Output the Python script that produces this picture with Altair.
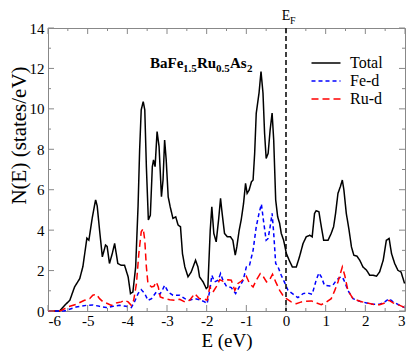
import altair as alt
import pandas as pd

# ---------------- data ----------------
total_e = [-6.0, -5.71, -5.58, -5.45, -5.33, -5.2, -5.12, -5.02, -4.97, -4.88, -4.8, -4.76, -4.7, -4.63, -4.55, -4.51, -4.45, -4.38, -4.32, -4.24, -4.15, -4.07, -3.98, -3.92, -3.86, -3.79, -3.73, -3.69, -3.65, -3.6, -3.56, -3.52, -3.47, -3.42, -3.37, -3.34, -3.3, -3.25, -3.2, -3.14, -3.1, -3.06, -3.02, -2.97, -2.92, -2.85, -2.78, -2.72, -2.66, -2.61, -2.55, -2.47, -2.39, -2.28, -2.22, -2.18, -2.09, -2.01, -1.97, -1.91, -1.87, -1.82, -1.76, -1.7, -1.65, -1.61, -1.55, -1.48, -1.4, -1.34, -1.28, -1.24, -1.18, -1.13, -1.07, -1.02, -0.98, -0.93, -0.87, -0.83, -0.79, -0.75, -0.68, -0.63, -0.58, -0.54, -0.5, -0.45, -0.4, -0.35, -0.31, -0.26, -0.21, -0.16, -0.12, -0.06, 0.01, 0.08, 0.16, 0.26, 0.34, 0.43, 0.51, 0.6, 0.66, 0.72, 0.76, 0.83, 0.89, 0.95, 1.06, 1.14, 1.2, 1.25, 1.31, 1.37, 1.42, 1.46, 1.52, 1.59, 1.65, 1.71, 1.79, 1.86, 1.94, 2.03, 2.11, 2.19, 2.28, 2.36, 2.45, 2.53, 2.6, 2.66, 2.74, 2.82, 2.9, 2.99]
total_n = [0, 0, 0.28, 0.53, 1.19, 1.6, 2.2, 3.6, 3.5, 4.66, 5.5, 5.2, 4.0, 2.68, 3.26, 3.2, 2.35, 2.84, 3.34, 2.35, 2.26, 2.26, 1.69, 0.86, 0.94, 2.18, 5.16, 7.97, 9.95, 10.36, 9.95, 7.14, 4.5, 4.74, 7.14, 7.47, 7.14, 8.88, 8.13, 5.65, 6.48, 8.46, 7.47, 5.65, 5.16, 4.58, 4.66, 4.25, 4.17, 2.84, 2.18, 1.69, 1.93, 2.51, 2.18, 1.69, 1.44, 1.11, 1.19, 4.0, 5.16, 3.84, 3.42, 4.5, 5.57, 4.83, 3.84, 3.67, 3.67, 3.5, 2.76, 3.17, 4.0, 4.5, 5.32, 6.31, 5.82, 5.98, 6.4, 6.48, 7.8, 9.79, 10.78, 11.85, 10.78, 8.79, 7.55, 7.8, 8.96, 9.79, 8.46, 5.49, 4.66, 4.33, 3.84, 3.5, 2.84, 2.51, 2.18, 2.18, 2.68, 3.34, 3.67, 3.75, 3.67, 4.83, 4.96, 4.91, 4.17, 3.5, 3.5, 3.84, 4.17, 4.83, 5.82, 6.15, 6.48, 5.98, 4.83, 4.0, 3.17, 2.76, 2.71, 2.51, 2.18, 2.02, 1.77, 1.77, 1.72, 1.93, 2.51, 3.5, 3.59, 2.84, 2.35, 2.02, 1.93, 1.36]

fe_e = [-6.0, -5.6, -5.54, -5.29, -5.03, -4.87, -4.7, -4.53, -4.36, -4.19, -4.03, -3.9, -3.82, -3.73, -3.65, -3.56, -3.48, -3.39, -3.27, -3.18, -3.12, -3.06, -2.97, -2.85, -2.68, -2.55, -2.43, -2.3, -2.18, -2.05, -1.99, -1.92, -1.87, -1.8, -1.71, -1.65, -1.59, -1.5, -1.38, -1.27, -1.17, -1.08, -1.0, -0.92, -0.83, -0.75, -0.68, -0.62, -0.57, -0.5, -0.45, -0.4, -0.35, -0.31, -0.26, -0.2, -0.12, -0.03, 0.05, 0.18, 0.3, 0.43, 0.55, 0.66, 0.76, 0.83, 0.89, 0.97, 1.1, 1.18, 1.27, 1.35, 1.42, 1.48, 1.56, 1.69, 1.86, 2.03, 2.19, 2.36, 2.49, 2.6, 2.7, 2.87, 2.99]
fe_n = [0, 0, 0.03, 0.2, 0.28, 0.3, 0.23, 0.17, 0.23, 0.28, 0.23, 0.17, 0.45, 0.86, 1.06, 0.86, 0.53, 0.61, 0.94, 0.83, 1.02, 1.27, 0.94, 0.78, 0.78, 0.61, 0.53, 0.61, 0.56, 0.45, 0.36, 1.02, 1.77, 1.44, 1.52, 1.85, 1.52, 1.22, 1.16, 0.86, 1.22, 1.52, 2.18, 2.26, 3.0, 4.17, 4.83, 5.29, 4.5, 3.5, 3.59, 4.17, 4.83, 3.84, 2.35, 2.18, 1.77, 1.39, 1.02, 0.83, 0.66, 0.86, 0.89, 0.83, 1.52, 1.88, 1.69, 1.27, 1.24, 1.27, 1.52, 1.65, 1.69, 1.44, 1.02, 0.61, 0.48, 0.4, 0.33, 0.33, 0.45, 0.61, 0.45, 0.28, 0.17]

ru_e = [-6.0, -5.75, -5.66, -5.5, -5.29, -5.08, -4.95, -4.87, -4.78, -4.7, -4.61, -4.49, -4.4, -4.28, -4.15, -4.07, -3.98, -3.9, -3.84, -3.77, -3.71, -3.65, -3.6, -3.56, -3.52, -3.48, -3.39, -3.33, -3.27, -3.22, -3.17, -3.06, -2.93, -2.81, -2.68, -2.55, -2.43, -2.3, -2.18, -2.08, -1.99, -1.92, -1.84, -1.76, -1.67, -1.59, -1.46, -1.38, -1.29, -1.21, -1.13, -1.0, -0.92, -0.83, -0.75, -0.65, -0.57, -0.49, -0.42, -0.34, -0.26, -0.16, -0.08, 0.01, 0.13, 0.26, 0.39, 0.51, 0.64, 0.76, 0.89, 1.02, 1.14, 1.23, 1.31, 1.37, 1.42, 1.48, 1.56, 1.69, 1.86, 2.03, 2.19, 2.36, 2.49, 2.6, 2.7, 2.87, 2.99]
ru_n = [0, 0, 0.03, 0.2, 0.33, 0.53, 0.61, 0.78, 0.83, 0.61, 0.45, 0.36, 0.28, 0.4, 0.45, 0.53, 0.45, 0.28, 0.53, 1.36, 2.84, 3.92, 4.08, 3.5, 2.18, 1.36, 1.19, 1.22, 1.44, 1.19, 0.69, 0.61, 0.56, 0.53, 0.58, 0.45, 0.53, 0.86, 0.61, 0.61, 0.53, 1.19, 0.94, 1.19, 1.55, 1.47, 1.55, 1.52, 1.02, 1.36, 1.47, 1.72, 1.36, 1.19, 1.52, 1.85, 1.69, 1.44, 1.52, 1.82, 1.44, 1.02, 0.78, 0.61, 0.45, 0.36, 0.45, 0.48, 0.5, 0.4, 0.31, 0.45, 0.61, 1.02, 1.44, 1.85, 2.18, 1.77, 1.02, 0.61, 0.48, 0.4, 0.33, 0.31, 0.4, 0.53, 0.4, 0.28, 0.17]

series_names = ["Total", "Fe-d", "Ru-d"]
series_colors = ["#000000", "#0000ff", "#ff0000"]
series_dash = [[1, 0], [4, 3], [7, 4]]

x_major = [-6, -5, -4, -3, -2, -1, 0, 1, 2, 3]
x_minor = [-5.5, -4.5, -3.5, -2.5, -1.5, -0.5, 0.5, 1.5, 2.5]
y_major = [0, 2, 4, 6, 8, 10, 12, 14]
y_minor = [1, 3, 5, 7, 9, 11, 13]
fermi = [0.0]

# ---------------- build ----------------
W, H = 357, 283
SERIF = "Liberation Serif"
FRAME = "#888888"

df = pd.concat([
    pd.DataFrame({"E": total_e, "N": total_n, "series": "Total"}),
    pd.DataFrame({"E": fe_e, "N": fe_n, "series": "Fe-d"}),
    pd.DataFrame({"E": ru_e, "N": ru_n, "series": "Ru-d"}),
])

xs = alt.Scale(domain=[-6, 3], nice=False, zero=False)
ys = alt.Scale(domain=[0, 14], nice=False, zero=False)

XT = "E (eV)"
YT = "N(E) (states/eV)"
AX = alt.Axis(values=x_major, title=XT, labelExpr="toString(datum.value)",
              labelPadding=2, titleFontSize=19, titleBaseline="alphabetic",
              titleY=35, titleAlign="center")
AY = alt.Axis(values=y_major, title=YT, labelPadding=4, titleFontSize=21,
              titleBaseline="alphabetic", titleX=-23, titleY=107, titleAlign="center",
              titleAngle=270)

leg = alt.Legend(
    title=None, orient="none", legendX=270, legendY=27,
    symbolType="M-2.9,0L2.9,0", symbolSize=100, symbolStrokeWidth=1.5,
    labelFont=SERIF, labelFontSize=16, labelColor="black", labelOffset=16,
    rowPadding=2, padding=0,
)

lines = alt.Chart(df).mark_line(strokeWidth=1.5).encode(
    x=alt.X("E:Q", scale=xs, axis=AX, title=XT),
    y=alt.Y("N:Q", scale=ys, axis=AY, title=YT),
    color=alt.Color("series:N", scale=alt.Scale(domain=series_names, range=series_colors), legend=leg),
    strokeDash=alt.StrokeDash("series:N", scale=alt.Scale(domain=series_names, range=series_dash), legend=leg),
)

def xticks(vals, length):
    d = pd.DataFrame({"v": vals})
    b = alt.Chart(d).mark_rule(color=FRAME, strokeWidth=1).encode(
        x=alt.X("v:Q", scale=xs, axis=AX, title=XT), y=alt.value(H), y2=alt.value(H - length))
    t = alt.Chart(d).mark_rule(color=FRAME, strokeWidth=1).encode(
        x=alt.X("v:Q", scale=xs, axis=AX, title=XT), y=alt.value(0), y2=alt.value(length))
    return b + t

def yticks(vals, length):
    d = pd.DataFrame({"v": vals})
    l = alt.Chart(d).mark_rule(color=FRAME, strokeWidth=1).encode(
        y=alt.Y("v:Q", scale=ys, axis=AY, title=YT), x=alt.value(0), x2=alt.value(length))
    r = alt.Chart(d).mark_rule(color=FRAME, strokeWidth=1).encode(
        y=alt.Y("v:Q", scale=ys, axis=AY, title=YT), x=alt.value(W), x2=alt.value(W - length))
    return l + r

fdf = pd.DataFrame({"E": fermi})
ef_line = alt.Chart(fdf).mark_rule(color="black", strokeWidth=1.5, strokeDash=[5, 3]).encode(
    x=alt.X("E:Q", scale=xs, axis=AX, title=XT))
ef_E = alt.Chart(fdf).mark_text(text="E", font=SERIF, fontSize=14, align="center",
                                baseline="alphabetic", color="black").encode(
    x=alt.X("E:Q", scale=xs, axis=AX, title=XT), y=alt.value(-8))
ef_F = alt.Chart(fdf).mark_text(text="F", font=SERIF, fontSize=10, align="left",
                                baseline="alphabetic", dx=4, color="black").encode(
    x=alt.X("E:Q", scale=xs, axis=AX, title=XT), y=alt.value(-4))

def label(txt, x, y, size):
    return alt.Chart(fdf).mark_text(text=txt, font=SERIF, fontSize=size, fontWeight="bold",
                                    align="left", baseline="alphabetic", color="black").encode(
        x=alt.value(x), y=alt.value(y))

formula = (label("BaFe", 102, 40, 15) + label("1.5", 135, 44, 11) + label("Ru", 149, 40, 15)
           + label("0.5", 168, 44, 11) + label("As", 182, 40, 15) + label("2", 199, 44, 11))

chart = alt.layer(
    lines,
    xticks(x_major, 6), xticks(x_minor, 3), yticks(y_major, 6), yticks(y_minor, 3),
    ef_line, ef_E, ef_F, formula,
).properties(
    width=W, height=H,
    autosize=alt.AutoSizeParams(type="none"),
    padding={"left": 40, "top": 20, "right": 2, "bottom": 40},
).configure_view(
    stroke=FRAME, strokeWidth=1,
).configure_axis(
    domain=False, ticks=False, grid=False,
    labelFont=SERIF, labelFontSize=15, labelColor="black",
    titleFont=SERIF, titleFontWeight="normal", titleColor="black",
).configure_legend(
    labelFont=SERIF,
)

chart.save("out.html", embed_options={"renderer": "svg", "actions": False})
